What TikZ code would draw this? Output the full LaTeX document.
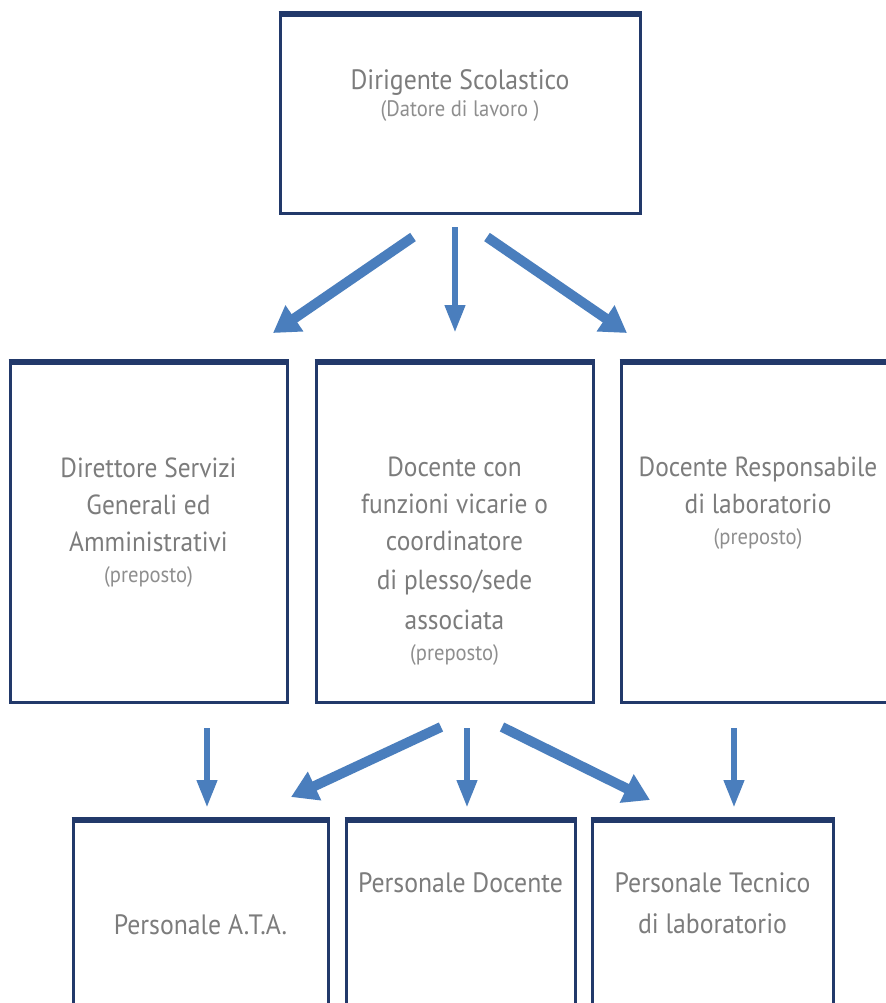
\documentclass[tikz,border=0pt]{standalone}
\usepackage{fontspec}
\setmainfont[FakeStretch=0.92]{PT Sans}
\usetikzlibrary{arrows.meta}
\definecolor{boxblue}{HTML}{22396A}
\definecolor{arrowblue}{HTML}{4A7EBD}
\definecolor{txtgray}{HTML}{7C7C7C}
\definecolor{subgray}{HTML}{8E8E8E}
\newcommand{\prep}[1]{{\color{subgray}\fontsize{11.2}{13}\selectfont #1}}
\begin{document}
\begin{tikzpicture}[x=0.5pt, y=-0.5pt,
    box/.style={draw=boxblue, line width=1.5pt, fill=white, inner sep=0pt},
    topedge/.style={draw=boxblue, line width=2.6pt},
    lbl/.style={text=txtgray, align=center, inner sep=0pt, anchor=north, font=\fontsize{13.8}{18.5}\selectfont},
    wide/.style={draw=arrowblue, line width=5pt, -{Triangle[width=15pt, length=13pt]}},
    slim/.style={draw=arrowblue, line width=3.4pt, -{Triangle[width=9.5pt, length=14pt]}}]
    \clip (0,0) rectangle (886,1003);
    \fill[white] (0,0) rectangle (886,1003);

    % Top level
    \node[box, minimum width=180pt, minimum height=99pt] (ds) at (460,114) {};
    \draw[topedge] (ds.north west) -- (ds.north east);
    \node[lbl, font=\fontsize{14}{18.5}\selectfont] (dsT) at (460,69) {Dirigente Scolastico\\[-5pt]\prep{(Datore di lavoro )}};

    % Middle level
    \node[box, minimum width=138.5pt, minimum height=169.5pt] (dsga) at (148.5,532.5) {};
    \node[box, minimum width=138.5pt, minimum height=169.5pt] (vic) at (454.5,532.5) {};
    \node[box, minimum width=139.5pt, minimum height=169.5pt] (lab) at (760.5,532.5) {};
    \draw[topedge] (dsga.north west) -- (dsga.north east);
    \draw[topedge] (vic.north west) -- (vic.north east);
    \draw[topedge] (lab.north west) -- (lab.north east);
    \node[lbl] (dsgaT) at (148.5,457) {Direttore Servizi\\Generali ed\\Amministrativi\\[-3pt]\prep{(preposto)}};
    \node[lbl] (vicT) at (454.5,457) {Docente con\\funzioni vicarie o\\coordinatore\\[1pt]di plesso/sede\\[1.5pt]associata\\[-3pt]\prep{(preposto)}};
    \node[lbl] (labT) at (758,457) {Docente Responsabile\\di laboratorio\\[-3pt]\prep{(preposto)}};

    % Bottom level
    \node[box, minimum width=127.5pt, minimum height=109.5pt] (ata) at (200.5,930.5) {};
    \node[box, minimum width=114.5pt, minimum height=109.5pt] (doc) at (460.5,930.5) {};
    \node[box, minimum width=120.5pt, minimum height=109.5pt] (tec) at (712.5,930.5) {};
    \draw[topedge] (ata.north west) -- (ata.north east);
    \draw[topedge] (doc.north west) -- (doc.north east);
    \draw[topedge] (tec.north west) -- (tec.north east);
    \node[lbl, font=\fontsize{14}{20.5}\selectfont] (ataT) at (200.5,914) {Personale A.T.A.};
    \node[lbl, font=\fontsize{14}{20.5}\selectfont] (docT) at (460.5,872) {Personale Docente};
    \node[lbl, font=\fontsize{14}{20.5}\selectfont] (tecT) at (712.5,872) {Personale Tecnico\\di laboratorio};

    % Arrows from the top box
    \coordinate (a1) at (413,237); \coordinate (b1) at (273,333);
    \coordinate (a2) at (455,227); \coordinate (b2) at (455,333);
    \coordinate (a3) at (487,237); \coordinate (b3) at (627,333);
    \draw[wide] (a1) -- (b1);
    \draw[slim] (a2) -- (b2);
    \draw[wide] (a3) -- (b3);

    % Arrows to the bottom boxes
    \coordinate (c1) at (207,728); \coordinate (d1) at (207,808);
    \coordinate (c2) at (441,727); \coordinate (d2) at (291,797);
    \coordinate (c3) at (467,728); \coordinate (d3) at (467,808);
    \coordinate (c4) at (502,727); \coordinate (d4) at (650,800);
    \coordinate (c5) at (734,728); \coordinate (d5) at (734,808);
    \draw[slim] (c1) -- (d1);
    \draw[wide] (c2) -- (d2);
    \draw[slim] (c3) -- (d3);
    \draw[wide] (c4) -- (d4);
    \draw[slim] (c5) -- (d5);
\end{tikzpicture}
\end{document}
